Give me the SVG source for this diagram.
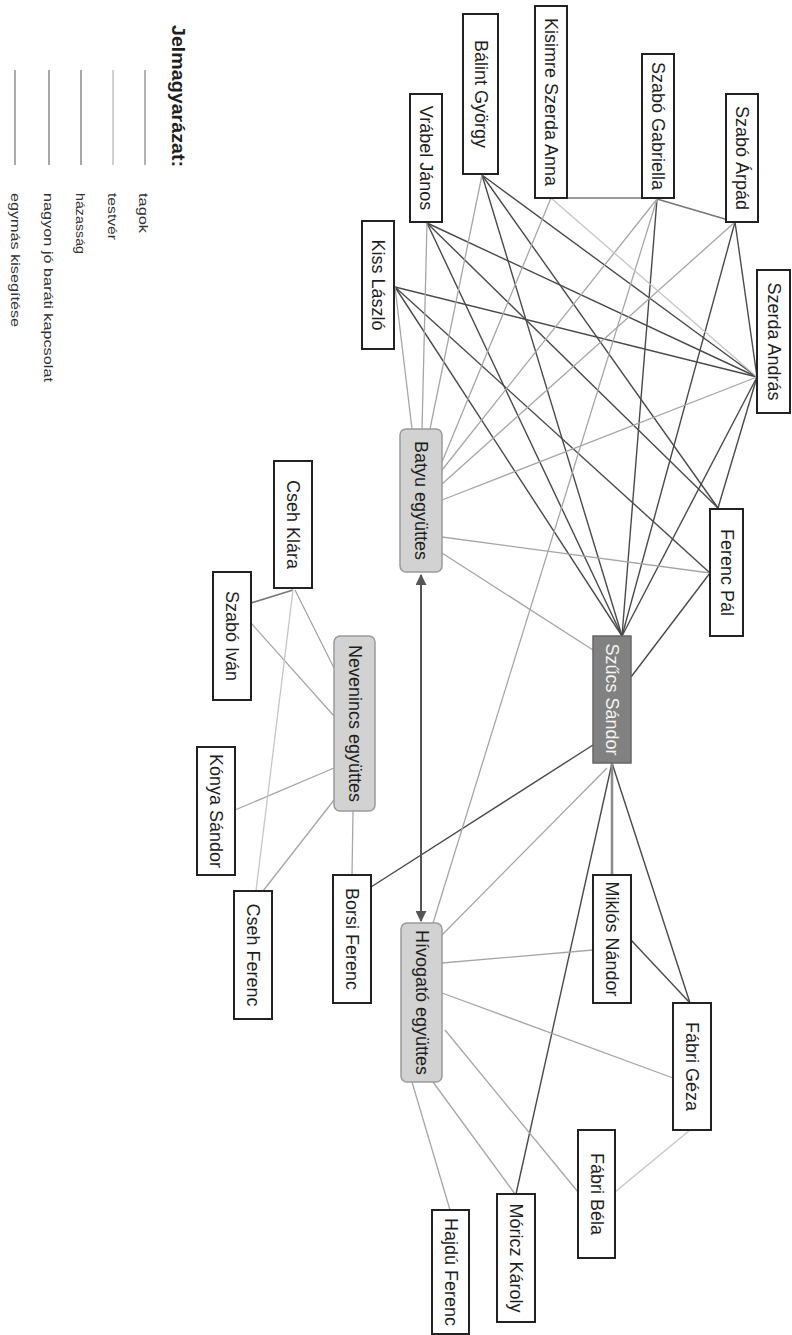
<svg xmlns="http://www.w3.org/2000/svg" width="792" height="1335" viewBox="0 0 792 1335">
<defs>
<style>
.bg{fill:#fff}
.p{fill:#fff;stroke:#222;stroke-width:2}
.band{fill:#d2d2d2;stroke:#9a9a9a;stroke-width:1.5}
.ss{fill:#818181;stroke:#666;stroke-width:1.5}
.t{font-family:"Liberation Sans",Arial,sans-serif;font-size:18px;fill:#1e1e1e}
.tw{fill:#f4f4f4}
.lt{font-family:"Liberation Sans",Arial,sans-serif;font-size:12px;fill:#333}
.title{font-family:"Liberation Sans",Arial,sans-serif;font-size:18px;font-weight:bold;fill:#1e1e1e}
.f{stroke:#4a4a4a;stroke-width:1.4;fill:none}
.m{stroke:#a6a6a6;stroke-width:1.3;fill:none}
.s{stroke:#c6c6c6;stroke-width:1.3;fill:none}
.h{stroke:#777;stroke-width:1.6;fill:none}
.k{stroke:#8c8c8c;stroke-width:2.6;fill:none}
.arr{stroke:#555;stroke-width:2;fill:none}
</style>
<marker id="ah" viewBox="0 0 10 10" refX="9" refY="5" markerWidth="11" markerHeight="11" orient="auto-start-reverse" markerUnits="userSpaceOnUse">
<path d="M0,0 L10,5 L0,10 z" fill="#555"/>
</marker>
</defs>
<rect class="bg" x="0" y="0" width="792" height="1335"/>

<g id="legend">
<text class="title" transform="translate(178,25) rotate(90)" dominant-baseline="central" textLength="142" lengthAdjust="spacingAndGlyphs">Jelmagyarázat:</text>
<line x1="145" y1="70" x2="145" y2="165" stroke="#9a9a9a" stroke-width="1.5"/>
<line x1="113" y1="70" x2="113" y2="165" stroke="#c2c2c2" stroke-width="1.5"/>
<line x1="81" y1="70" x2="81" y2="165" stroke="#8a8a8a" stroke-width="1.5"/>
<line x1="49" y1="70" x2="49" y2="165" stroke="#8a8a8a" stroke-width="1.5"/>
<line x1="15" y1="70" x2="15" y2="165" stroke="#8f8f8f" stroke-width="1.5"/>
<text class="lt" transform="translate(143,193) rotate(90)" dominant-baseline="central" textLength="40" lengthAdjust="spacingAndGlyphs">tagok</text>
<text class="lt" transform="translate(112,193) rotate(90)" dominant-baseline="central" textLength="47" lengthAdjust="spacingAndGlyphs">testvér</text>
<text class="lt" transform="translate(80,193) rotate(90)" dominant-baseline="central" textLength="61" lengthAdjust="spacingAndGlyphs">házasság</text>
<text class="lt" transform="translate(48,193) rotate(90)" dominant-baseline="central" textLength="189" lengthAdjust="spacingAndGlyphs">nagyon jó baráti kapcsolat</text>
<text class="lt" transform="translate(15,193) rotate(90)" dominant-baseline="central" textLength="134" lengthAdjust="spacingAndGlyphs">egymás kisegítése</text>
</g>

<g id="connectors">
<line class="f" x1="482" y1="175" x2="622" y2="636"/>
<line class="f" x1="482" y1="175" x2="718" y2="508"/>
<line class="f" x1="482" y1="175" x2="757" y2="377"/>
<line class="f" x1="427" y1="223" x2="622" y2="636"/>
<line class="f" x1="427" y1="223" x2="718" y2="508"/>
<line class="f" x1="427" y1="223" x2="757" y2="377"/>
<line class="f" x1="395" y1="287" x2="622" y2="636"/>
<line class="f" x1="395" y1="287" x2="710" y2="573"/>
<line class="f" x1="395" y1="287" x2="757" y2="377"/>
<line class="f" x1="657" y1="199" x2="622" y2="636"/>
<line class="f" x1="735" y1="222" x2="622" y2="636"/>
<line class="f" x1="757" y1="377" x2="622" y2="636"/>
<line class="f" x1="757" y1="377" x2="718" y2="508"/>
<line class="f" x1="710" y1="573" x2="631" y2="677"/>
<line class="h" x1="657" y1="199" x2="735" y2="222"/>
<line class="f" x1="735" y1="222" x2="757" y2="377"/>
<line class="h" x1="567" y1="198" x2="642" y2="198"/>
<line class="f" x1="612" y1="763" x2="690" y2="1003"/>
<line class="f" x1="612" y1="763" x2="516" y2="1194"/>
<line class="f" x1="593" y1="745" x2="371" y2="887"/>
<line class="f" x1="631" y1="940" x2="690" y2="1003"/>
<line class="h" x1="293" y1="590" x2="251" y2="603"/>
<line class="k" x1="612" y1="763" x2="612" y2="875"/>
<line class="m" x1="395" y1="287" x2="412" y2="429"/>
<line class="m" x1="427" y1="223" x2="422" y2="429"/>
<line class="m" x1="482" y1="175" x2="430" y2="429"/>
<line class="m" x1="551" y1="198" x2="442" y2="462"/>
<line class="m" x1="657" y1="199" x2="442" y2="470"/>
<line class="m" x1="735" y1="222" x2="442" y2="484"/>
<line class="m" x1="757" y1="377" x2="442" y2="500"/>
<line class="m" x1="710" y1="573" x2="442" y2="537"/>
<line class="m" x1="593" y1="650" x2="442" y2="553"/>
<line class="m" x1="657" y1="199" x2="433" y2="923"/>
<line class="m" x1="607" y1="768" x2="442" y2="935"/>
<line class="m" x1="593" y1="950" x2="442" y2="963"/>
<line class="m" x1="673" y1="1078" x2="442" y2="993"/>
<line class="m" x1="578" y1="1192" x2="445" y2="1030"/>
<line class="m" x1="515" y1="1194" x2="433" y2="1082"/>
<line class="m" x1="450" y1="1210" x2="412" y2="1082"/>
<line class="m" x1="295" y1="590" x2="334" y2="668"/>
<line class="m" x1="251" y1="623" x2="334" y2="716"/>
<line class="m" x1="235" y1="810" x2="334" y2="768"/>
<line class="m" x1="263" y1="891" x2="334" y2="800"/>
<line class="m" x1="353" y1="811" x2="352" y2="875"/>
<line class="s" x1="551" y1="198" x2="757" y2="377"/>
<line class="s" x1="293" y1="590" x2="256" y2="891"/>
<line class="s" x1="690" y1="1130" x2="615" y2="1192"/>
<line class="arr" x1="421" y1="575" x2="421" y2="921" marker-start="url(#ah)" marker-end="url(#ah)"/>
</g>

<g id="n-balint"><rect class="p" x="463" y="14" width="35" height="160"/><text class="t" transform="translate(480.5,94) rotate(90)" text-anchor="middle" dominant-baseline="central">Bálint György</text></g>
<g id="n-vrabel"><rect class="p" x="410" y="94" width="32" height="128"/><text class="t" transform="translate(426,158) rotate(90)" text-anchor="middle" dominant-baseline="central">Vrábel János</text></g>
<g id="n-kiss"><rect class="p" x="362" y="221" width="32" height="128"/><text class="t" transform="translate(378,285) rotate(90)" text-anchor="middle" dominant-baseline="central">Kiss László</text></g>
<g id="n-kisimre"><rect class="p" x="535" y="6" width="32" height="192"/><text class="t" transform="translate(551,102) rotate(90)" text-anchor="middle" dominant-baseline="central">Kisimre Szerda Anna</text></g>
<g id="n-gabriella"><rect class="p" x="642" y="54" width="32" height="144"/><text class="t" transform="translate(658,126) rotate(90)" text-anchor="middle" dominant-baseline="central">Szabó Gabriella</text></g>
<g id="n-arpad"><rect class="p" x="726" y="94" width="32" height="128"/><text class="t" transform="translate(742,158) rotate(90)" text-anchor="middle" dominant-baseline="central">Szabó Árpád</text></g>
<g id="n-andras"><rect class="p" x="757" y="270" width="33" height="143"/><text class="t" transform="translate(773.5,341.5) rotate(90)" text-anchor="middle" dominant-baseline="central">Szerda András</text></g>
<g id="n-ferencpal"><rect class="p" x="710" y="509" width="33" height="127"/><text class="t" transform="translate(726.5,572.5) rotate(90)" text-anchor="middle" dominant-baseline="central">Ferenc Pál</text></g>
<g id="n-szucs"><rect class="ss" x="593" y="636" width="38" height="127"/><text class="t tw" transform="translate(612,699.5) rotate(90)" text-anchor="middle" dominant-baseline="central">Szűcs Sándor</text></g>
<g id="n-batyu"><rect class="band" x="400" y="429" width="42" height="143" rx="6"/><text class="t" transform="translate(421,500.5) rotate(90)" text-anchor="middle" dominant-baseline="central">Batyu együttes</text></g>
<g id="n-nevenincs"><rect class="band" x="334" y="636" width="41" height="175" rx="6"/><text class="t" transform="translate(354.5,723.5) rotate(90)" text-anchor="middle" dominant-baseline="central">Nevenincs együttes</text></g>
<g id="n-hivogato"><rect class="band" x="401" y="923" width="41" height="159" rx="6"/><text class="t" transform="translate(421.5,1002.5) rotate(90)" text-anchor="middle" dominant-baseline="central">Hívogató együttes</text></g>
<g id="n-csehklara"><rect class="p" x="274" y="461" width="38" height="127"/><text class="t" transform="translate(293,524.5) rotate(90)" text-anchor="middle" dominant-baseline="central">Cseh Klára</text></g>
<g id="n-szaboivan"><rect class="p" x="213" y="572" width="38" height="128"/><text class="t" transform="translate(232,636) rotate(90)" text-anchor="middle" dominant-baseline="central">Szabó Iván</text></g>
<g id="n-konya"><rect class="p" x="197" y="747" width="38" height="128"/><text class="t" transform="translate(216,811) rotate(90)" text-anchor="middle" dominant-baseline="central">Kónya Sándor</text></g>
<g id="n-csehferenc"><rect class="p" x="234" y="891" width="38" height="128"/><text class="t" transform="translate(253,955) rotate(90)" text-anchor="middle" dominant-baseline="central">Cseh Ferenc</text></g>
<g id="n-borsi"><rect class="p" x="333" y="875" width="38" height="128"/><text class="t" transform="translate(352,939) rotate(90)" text-anchor="middle" dominant-baseline="central">Borsi Ferenc</text></g>
<g id="n-miklos"><rect class="p" x="593" y="875" width="38" height="128"/><text class="t" transform="translate(612,939) rotate(90)" text-anchor="middle" dominant-baseline="central">Miklós Nándor</text></g>
<g id="n-fabrigeza"><rect class="p" x="673" y="1003" width="38" height="127"/><text class="t" transform="translate(692,1066.5) rotate(90)" text-anchor="middle" dominant-baseline="central">Fábri Géza</text></g>
<g id="n-fabribela"><rect class="p" x="578" y="1130" width="37" height="128"/><text class="t" transform="translate(596.5,1194) rotate(90)" text-anchor="middle" dominant-baseline="central">Fábri Béla</text></g>
<g id="n-moricz"><rect class="p" x="497" y="1194" width="38" height="128"/><text class="t" transform="translate(516,1258) rotate(90)" text-anchor="middle" dominant-baseline="central">Móricz Károly</text></g>
<g id="n-hajdu"><rect class="p" x="432" y="1210" width="37" height="124"/><text class="t" transform="translate(450.5,1272) rotate(90)" text-anchor="middle" dominant-baseline="central">Hajdú Ferenc</text></g>
</svg>
